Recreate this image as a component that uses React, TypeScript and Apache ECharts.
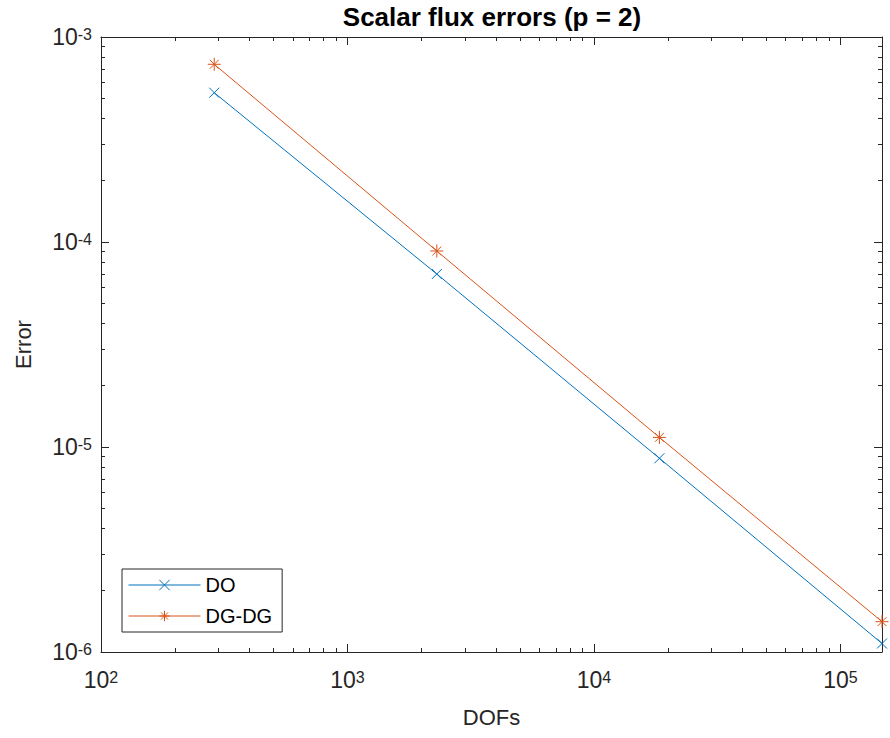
import React, { useEffect, useRef } from "react";
import * as echarts from "echarts";

// ---- data ----
const dofs = [288, 2304, 18432, 147456];
const errDO = [5.35e-4, 6.98e-5, 8.81e-6, 1.1e-6];
const errDGDG = [7.36e-4, 9.04e-5, 1.114e-5, 1.406e-6];
const seriesNames = ["DO", "DG-DG"];
const xMin = 100;
const xMax = 147456;
const yMin = 1e-6;
const yMax = 1e-3;
const minorMultipliers = [2, 3, 4, 5, 6, 7, 8, 9];
const xDecades = [2, 3, 4, 5];
const yDecades = [-6, -5, -4];

const FONT = "Liberation Sans, Arial, Helvetica, sans-serif";
const AX = "#262626";
const BLUE = "#0072BD";
const ORANGE = "#D95319";

const X_PATH = "path://M0,0L10,10M10,0L0,10";
const STAR_PATH = "path://M5,0L5,10M0,5L10,5M1.6,1.6L8.4,8.4M8.4,1.6L1.6,8.4";

function minorLogPositions(decades: number[], lo: number, hi: number): number[] {
  const out: number[] = [];
  decades.forEach((e) => {
    minorMultipliers.forEach((m) => {
      const v = m * Math.pow(10, e);
      if (v > lo && v < hi) out.push(Math.log10(v));
    });
  });
  return out;
}

const supFormatter = (value: number) => {
  const l = Math.log10(value);
  const e = Math.round(l);
  if (Math.abs(l - e) > 1e-6) return "";
  return `{b|10}{s|${e}}`;
};

const labelRich = {
  b: { fontSize: 23, fontFamily: FONT, color: AX, lineHeight: 22, padding: [8, 0, 0, 0], verticalAlign: "bottom" },
  s: { fontSize: 16, fontFamily: FONT, color: AX, lineHeight: 15, verticalAlign: "top" },
};

export default function App() {
  const ref = useRef<HTMLDivElement>(null);
  useEffect(() => {
    document.body.style.margin = "0";
    if (!ref.current) return;
    const chart = echarts.init(ref.current, undefined, { renderer: "svg" });
    const xMinor = minorLogPositions(xDecades, xMin, xMax);
    const yMinor = minorLogPositions(yDecades, yMin, yMax);
    const lineStyle = { color: AX, width: 1 };
    const minorX = (pos: "top" | "bottom") => ({
      type: "value",
      position: pos,
      min: Math.log10(xMin),
      max: Math.log10(xMax),
      axisLine: { show: false, onZero: false },
      axisTick: { show: true, inside: true, length: 4, lineStyle, customValues: xMinor },
      axisLabel: { show: false },
      splitLine: { show: false },
    });
    const minorY = (pos: "left" | "right") => ({
      type: "value",
      position: pos,
      min: Math.log10(yMin),
      max: Math.log10(yMax),
      axisLine: { show: false, onZero: false },
      axisTick: { show: true, inside: true, length: 4, lineStyle, customValues: yMinor },
      axisLabel: { show: false },
      splitLine: { show: false },
    });
    chart.setOption({
      animation: false,
      backgroundColor: "#ffffff",
      grid: { left: 101, right: 8, top: 37, bottom: 86, containLabel: false },
      graphic: [
        {
          type: "text",
          x: 492,
          y: 17,
          style: {
            text: "Scalar flux errors (p = 2)",
            font: `bold 26px ${FONT}`,
            fill: "#000000",
            align: "center",
            verticalAlign: "middle",
          },
        },
      ],
      legend: {
        data: seriesNames,
        orient: "vertical",
        left: 122,
        top: 569,
        padding: [6, 10, 6, 6],
        itemGap: 11,
        itemWidth: 72,
        itemHeight: 13,
        backgroundColor: "#ffffff",
        borderColor: AX,
        borderWidth: 1,
        borderRadius: 0,
        lineStyle: { width: 1 },
        itemStyle: { borderWidth: 1 },
        textStyle: { fontSize: 20, fontFamily: FONT, color: "#000" },
      },
      xAxis: [
        {
          type: "log",
          logBase: 10,
          position: "bottom",
          min: xMin,
          max: xMax,
          name: "DOFs",
          nameLocation: "middle",
          nameGap: 54,
          nameTextStyle: { fontSize: 22, fontFamily: FONT, color: AX },
          axisLine: { show: true, onZero: false, lineStyle },
          axisTick: { show: true, inside: true, length: 8, lineStyle },
          axisLabel: { formatter: supFormatter, rich: labelRich, margin: 17, showMaxLabel: false },
          splitLine: { show: false },
          minorTick: { show: false },
        },
        {
          type: "log",
          logBase: 10,
          position: "top",
          min: xMin,
          max: xMax,
          axisLine: { show: true, onZero: false, lineStyle },
          axisTick: { show: true, inside: true, length: 8, lineStyle },
          axisLabel: { show: false },
          splitLine: { show: false },
        },
        minorX("bottom"),
        minorX("top"),
      ],
      yAxis: [
        {
          type: "log",
          logBase: 10,
          position: "left",
          min: yMin,
          max: yMax,
          name: "Error",
          nameLocation: "middle",
          nameGap: 67,
          nameTextStyle: { fontSize: 22, fontFamily: FONT, color: AX },
          axisLine: { show: true, onZero: false, lineStyle },
          axisTick: { show: true, inside: true, length: 8, lineStyle },
          axisLabel: { formatter: supFormatter, rich: labelRich, margin: 9 },
          splitLine: { show: false },
        },
        {
          type: "log",
          logBase: 10,
          position: "right",
          min: yMin,
          max: yMax,
          axisLine: { show: true, onZero: false, lineStyle },
          axisTick: { show: true, inside: true, length: 8, lineStyle },
          axisLabel: { show: false },
          splitLine: { show: false },
        },
        minorY("left"),
        minorY("right"),
      ],
      series: [
        {
          name: seriesNames[0],
          type: "line",
          xAxisIndex: 0,
          yAxisIndex: 0,
          data: dofs.map((d, i) => [d, errDO[i]]),
          symbol: X_PATH,
          symbolSize: 10,
          showAllSymbol: true,
          clip: false,
          color: BLUE,
          lineStyle: { color: BLUE, width: 1 },
          itemStyle: { color: BLUE, borderColor: BLUE, borderWidth: 1 },
          emphasis: { disabled: true },
        },
        {
          name: seriesNames[1],
          type: "line",
          xAxisIndex: 0,
          yAxisIndex: 0,
          data: dofs.map((d, i) => [d, errDGDG[i]]),
          symbol: STAR_PATH,
          symbolSize: 13,
          showAllSymbol: true,
          clip: false,
          color: ORANGE,
          lineStyle: { color: ORANGE, width: 1 },
          itemStyle: { color: ORANGE, borderColor: ORANGE, borderWidth: 1 },
          emphasis: { disabled: true },
        },
      ],
    });
    return () => chart.dispose();
  }, []);
  return <div ref={ref} style={{ width: 890, height: 738 }} />;
}
